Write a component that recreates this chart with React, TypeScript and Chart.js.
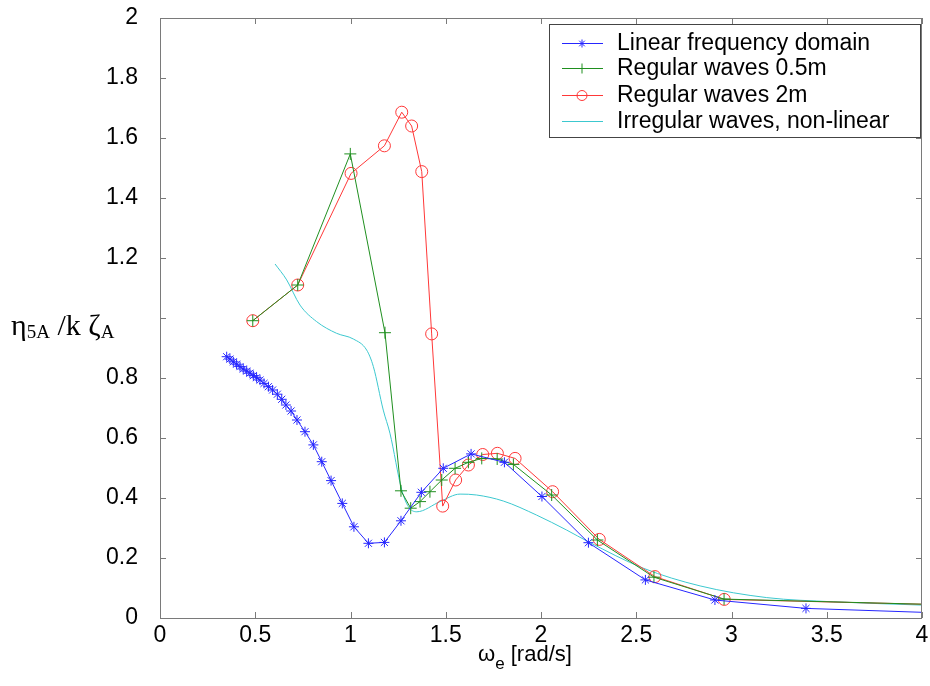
import React, { useEffect, useRef } from "react";
import { Chart, registerables } from "chart.js";

Chart.register(...registerables);

// ---- data ----
const seriesNames = [
  "Linear frequency domain",
  "Regular waves 0.5m",
  "Regular waves 2m",
  "Irregular waves, non-linear",
];

const xLinear = [0.35, 0.367, 0.385, 0.402, 0.42, 0.437, 0.455, 0.472, 0.49, 0.507, 0.525, 0.546, 0.569, 0.591, 0.616, 0.639, 0.661, 0.688, 0.719, 0.761, 0.805, 0.849, 0.898, 0.957, 1.018, 1.094, 1.178, 1.265, 1.372, 1.487, 1.633, 1.808, 2.005, 2.249, 2.548, 2.913, 3.391, 4.0];
const yLinear = [0.871, 0.863, 0.854, 0.846, 0.838, 0.83, 0.823, 0.816, 0.808, 0.801, 0.793, 0.782, 0.771, 0.76, 0.746, 0.729, 0.71, 0.69, 0.66, 0.621, 0.577, 0.521, 0.458, 0.382, 0.304, 0.249, 0.252, 0.324, 0.419, 0.499, 0.547, 0.519, 0.405, 0.251, 0.127, 0.06, 0.032, 0.019];

const xReg05 = [0.487, 0.723, 0.999, 1.181, 1.265, 1.316, 1.365, 1.417, 1.479, 1.549, 1.619, 1.689, 1.77, 1.855, 2.056, 2.296, 2.593, 2.961, 4.0];
const yReg05 = [0.991, 1.11, 1.547, 0.951, 0.424, 0.366, 0.388, 0.421, 0.46, 0.499, 0.519, 0.532, 0.53, 0.512, 0.41, 0.26, 0.136, 0.063, 0.046];

const xReg2 = [0.487, 0.723, 1.003, 1.178, 1.269, 1.321, 1.374, 1.426, 1.484, 1.552, 1.619, 1.694, 1.771, 1.864, 2.061, 2.306, 2.598, 2.962, 4.0];
const yReg2 = [0.991, 1.11, 1.482, 1.574, 1.686, 1.64, 1.488, 0.947, 0.373, 0.46, 0.51, 0.545, 0.549, 0.532, 0.421, 0.262, 0.138, 0.062, 0.046];

const xIrreg = [0.604, 0.665, 0.735, 0.822, 0.927, 1.015, 1.085, 1.12, 1.172, 1.207, 1.269, 1.304, 1.348, 1.47, 1.575, 1.662, 1.802, 1.977, 2.135, 2.249, 2.537, 2.835, 3.185, 3.535, 4.0];
const yIrreg = [1.18, 1.127, 1.043, 0.988, 0.949, 0.93, 0.893, 0.838, 0.693, 0.616, 0.427, 0.371, 0.354, 0.388, 0.413, 0.41, 0.39, 0.343, 0.293, 0.254, 0.166, 0.107, 0.068, 0.054, 0.043];

const xTickValues = [0, 0.5, 1, 1.5, 2, 2.5, 3, 3.5, 4];
const yTickValues = [0, 0.2, 0.4, 0.6, 0.8, 1, 1.2, 1.4, 1.6, 1.8, 2];
const yHiddenLabel = 1;

const colors = ["#2626ff", "#1f8f1f", "#ff3838", "#3cc8cf"];
const markers: (string | false)[] = ["star", "cross", "circle", false];
const markerRadius = [5, 6, 6, 0];

const SANS = "'Liberation Sans', Arial, Helvetica, sans-serif";
const SERIF = "'Liberation Serif', 'Times New Roman', serif";

function pts(xs: number[], ys: number[]) {
  return xs.map((x, i) => ({ x, y: ys[i] }));
}

const framePlugin = {
  id: "frameTicks",
  afterDatasetsDraw(chart: any) {
    const { ctx, chartArea: a, scales } = chart;
    ctx.save();
    ctx.strokeStyle = "#7a7a7a";
    ctx.lineWidth = 1;
    ctx.strokeRect(a.left + 0.5, a.top + 0.5, a.right - a.left - 1, a.bottom - a.top);
    const tl = 6;
    ctx.beginPath();
    scales.x.ticks.forEach((t: any) => {
      const px = Math.round(scales.x.getPixelForValue(t.value)) + 0.5;
      ctx.moveTo(px, a.bottom);
      ctx.lineTo(px, a.bottom - tl);
      ctx.moveTo(px, a.top);
      ctx.lineTo(px, a.top + tl);
    });
    scales.y.ticks.forEach((t: any) => {
      const py = Math.round(scales.y.getPixelForValue(t.value)) + 0.5;
      ctx.moveTo(a.left, py);
      ctx.lineTo(a.left + tl, py);
      ctx.moveTo(a.right, py);
      ctx.lineTo(a.right - tl, py);
    });
    ctx.stroke();
    ctx.restore();
  },
  afterDraw(chart: any) {
    const { ctx, chartArea: a } = chart;
    ctx.save();
    // x-axis title: omega_e [rad/s]
    ctx.fillStyle = "#000";
    ctx.textBaseline = "alphabetic";
    ctx.textAlign = "left";
    const cx = (a.left + a.right) / 2;
    let x0 = cx - 63;
    const base = 661;
    ctx.font = `22px ${SANS}`;
    ctx.fillText("ω", x0, base);
    x0 += ctx.measureText("ω").width;
    ctx.font = `17px ${SANS}`;
    ctx.fillText("e", x0, base + 8);
    x0 += ctx.measureText("e").width;
    ctx.font = `22px ${SANS}`;
    ctx.fillText(" [rad/s]", x0, base);

    // y-axis title: eta_5A / k zeta_A
    let yx = 11;
    const yb = 335;
    const big = `30px ${SERIF}`;
    const small = `19px ${SERIF}`;
    const parts: [string, string, number][] = [
      ["η", big, 0],
      ["5A", small, 3],
      [" /k ", big, 0],
      ["ζ", big, 0],
      ["A", small, 3],
    ];
    parts.forEach(([t, f, dy]) => {
      ctx.font = f;
      ctx.fillText(t, yx, yb + dy);
      yx += ctx.measureText(t).width;
    });

    // legend
    const lx = 549, ly = 24, lw = 371, lh = 113;
    ctx.fillStyle = "#fff";
    ctx.fillRect(lx, ly, lw, lh);
    ctx.strokeStyle = "#444";
    ctx.lineWidth = 1;
    ctx.strokeRect(lx + 0.5, ly + 0.5, lw, lh);
    const rows = [43, 68, 95, 121];
    chart.data.datasets.forEach((ds: any, i: number) => {
      const ry = rows[i] + 0.5;
      ctx.strokeStyle = ds.borderColor;
      ctx.lineWidth = 1;
      ctx.beginPath();
      ctx.moveTo(562, ry);
      ctx.lineTo(603, ry);
      ctx.stroke();
      const m = markers[i];
      if (m) {
        ctx.beginPath();
        const r = i === 0 ? 4 : 5;
        if (m === "star") {
          ctx.moveTo(582 - r, ry); ctx.lineTo(582 + r, ry);
          ctx.moveTo(582, ry - r); ctx.lineTo(582, ry + r);
          const d = r * 0.7;
          ctx.moveTo(582 - d, ry - d); ctx.lineTo(582 + d, ry + d);
          ctx.moveTo(582 - d, ry + d); ctx.lineTo(582 + d, ry - d);
        } else if (m === "cross") {
          ctx.moveTo(582 - r, ry); ctx.lineTo(582 + r, ry);
          ctx.moveTo(582, ry - r); ctx.lineTo(582, ry + r);
        } else {
          ctx.arc(582, ry, r, 0, Math.PI * 2);
        }
        ctx.stroke();
      }
      ctx.fillStyle = "#000";
      ctx.font = `23px ${SANS}`;
      ctx.textBaseline = "middle";
      ctx.fillText(ds.label, 617, rows[i] + 1);
    });
    ctx.restore();
  },
};

export default function App() {
  const ref = useRef<HTMLCanvasElement | null>(null);

  useEffect(() => {
    if (!ref.current) return;
    const allX = [xLinear, xReg05, xReg2, xIrreg];
    const allY = [yLinear, yReg05, yReg2, yIrreg];
    const datasets = allX.map((xs, i) => ({
      label: seriesNames[i],
      data: pts(xs, allY[i]),
      borderColor: colors[i],
      backgroundColor: "rgba(0,0,0,0)",
      borderWidth: 1,
      pointStyle: markers[i] || "circle",
      pointBorderColor: colors[i],
      pointBackgroundColor: "rgba(0,0,0,0)",
      pointBorderWidth: 1,
      pointRadius: (c: any) => (c.dataIndex === xs.length - 1 ? 0 : markerRadius[i]),
      pointHoverRadius: markerRadius[i],
      cubicInterpolationMode: i === 3 ? "monotone" : "default",
      tension: 0,
      fill: false,
    }));

    const chart = new Chart(ref.current, {
      type: "line",
      data: { datasets },
      plugins: [framePlugin],
      options: {
        responsive: false,
        animation: false,
        layout: { padding: { top: 18, right: 8, left: 0, bottom: 0 } },
        plugins: {
          legend: { display: false },
          tooltip: { enabled: false },
          title: { display: false },
        },
        scales: {
          x: {
            type: "linear",
            min: 0,
            max: 4,
            afterBuildTicks: (s: any) => {
              s.ticks = xTickValues.map((v) => ({ value: v }));
            },
            afterFit: (s: any) => {
              s.height = 68;
              s.paddingLeft = 0;
              s.paddingRight = 0;
            },
            grid: { display: false, drawTicks: false },
            border: { display: false },
            ticks: {
              color: "#000",
              padding: 4,
              font: { family: SANS, size: 23 },
              maxRotation: 0,
              autoSkip: false,
              callback: (v: any) => String(v),
            },
          },
          y: {
            type: "linear",
            min: 0,
            max: 2,
            afterBuildTicks: (s: any) => {
              s.ticks = yTickValues.map((v) => ({ value: v }));
            },
            afterFit: (s: any) => {
              s.width = 160;
              s.paddingTop = 0;
              s.paddingBottom = 0;
            },
            grid: { display: false, drawTicks: false },
            border: { display: false },
            ticks: {
              color: "#000",
              padding: 22,
              font: { family: SANS, size: 23 },
              autoSkip: false,
              callback: (v: any) => (Math.abs(v - yHiddenLabel) < 1e-9 ? "" : String(Math.round(v * 10) / 10)),
            },
          },
        },
      },
    });
    return () => chart.destroy();
  }, []);

  return (
    <div style={{ position: "fixed", left: 0, top: 0, width: 930, height: 686, background: "#fff" }}>
      <canvas ref={ref} width={930} height={686} style={{ display: "block" }} />
    </div>
  );
}
